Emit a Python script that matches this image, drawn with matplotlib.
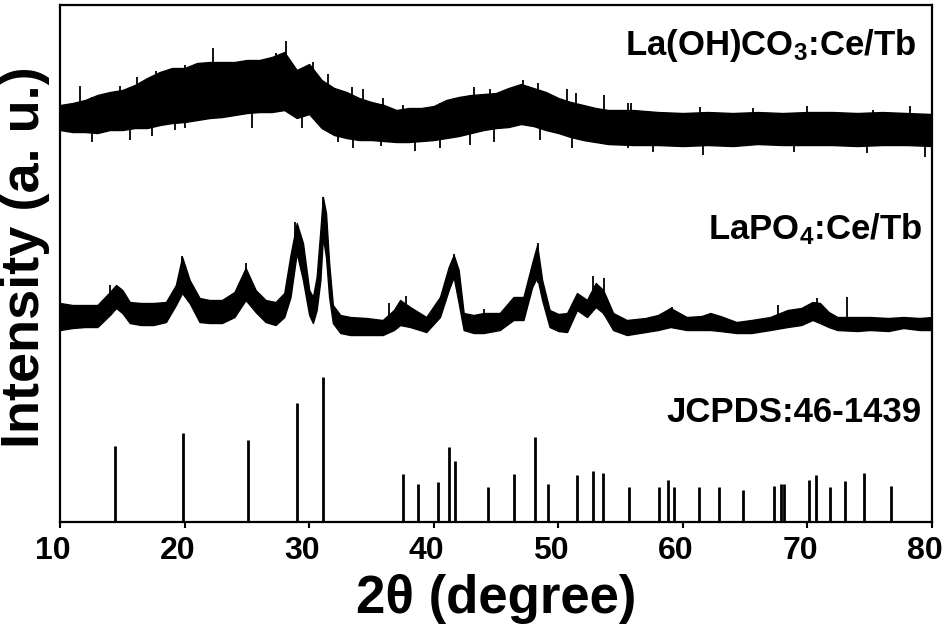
import numpy as np
import matplotlib.pyplot as plt
import matplotlib.transforms as mtransforms

plt.rcParams['font.family'] = ['Liberation Sans', 'DejaVu Sans']
plt.rcParams['font.weight'] = 'bold'
plt.rcParams['mathtext.fontset'] = 'custom'
plt.rcParams['mathtext.rm'] = 'Liberation Sans:bold'
plt.rcParams['mathtext.bf'] = 'Liberation Sans:bold'
plt.rcParams['mathtext.default'] = 'bf'

# La(OH)CO3:Ce/Tb -- amorphous pattern, noise band (upper / lower envelope)
top_2theta = [10, 11, 12, 13, 14, 15, 16, 17, 18, 19, 20, 21, 22, 23, 24, 25, 26, 27, 28, 29,
              30, 31, 32, 33, 34, 35, 36, 37, 38, 39, 40, 41, 42, 43, 44, 45, 46, 47, 48, 49,
              50, 51, 52, 53, 54, 56, 58, 60, 62, 64, 66, 68, 70, 72, 74, 76, 78, 80]
top_upper = [417, 419, 422, 427, 430, 432, 437, 444, 450, 454, 454, 459, 460, 460, 460, 462, 462, 465, 470, 452,
             458, 442, 434, 430, 424, 420, 417, 412, 414, 414, 416, 422, 425, 427, 428, 429, 434, 438, 434, 430,
             424, 420, 417, 414, 412, 412, 410, 409, 410, 409, 410, 409, 410, 410, 409, 410, 409, 408]
top_lower = [392, 390, 390, 389, 392, 392, 394, 394, 397, 399, 400, 402, 404, 405, 407, 409, 410, 410, 412, 404,
             408, 394, 387, 384, 382, 382, 381, 380, 380, 381, 382, 384, 386, 389, 392, 394, 395, 398, 396, 392,
             389, 385, 382, 380, 378, 377, 377, 376, 377, 376, 378, 377, 377, 377, 376, 377, 377, 376]
# single noise spikes sticking out of the band
top_spike_up_x = [11.6, 14.8, 16.2, 17.7, 19.0, 20.0, 22.3, 22.8, 24.4, 25.1, 26.3, 27.3, 28.1, 29.5,
                  30.3, 31.5, 33.4, 34.3, 35.9, 37.5, 41.6, 43.2, 44.5, 47.2, 48.4, 50.7, 51.4, 53.7,
                  55.6, 55.8, 61.4, 65.6, 70.0, 75.3, 78.2]
top_spike_up_y = [436, 436, 445, 451, 454, 457, 474, 459, 460, 462, 462, 469, 481, 449,
                  460, 448, 435, 433, 424, 417, 424, 435, 433, 442, 439, 433, 429, 427,
                  419, 419, 415, 414, 416, 412, 416]
top_spike_dn_x = [12.6, 15.6, 17.4, 19.2, 20.0, 25.4, 29.4, 32.3, 33.5, 35.8, 38.5, 40.5, 42.9, 44.8,
                  48.5, 51.1, 55.6, 57.6, 61.6, 68.9, 74.8, 79.4]
top_spike_dn_y = [380, 382, 386, 392, 394, 394, 394, 380, 374, 376, 371, 374, 377, 380,
                  382, 374, 374, 370, 367, 370, 369, 365]

# LaPO4:Ce/Tb -- nanocrystalline pattern, noise band (upper / lower envelope)
mid_2theta = [10, 11, 12, 13, 14, 14.5, 15, 15.6, 16.5, 17.5, 18.5, 19.3, 19.8, 20.4, 21.2, 22, 23, 24,
              24.9, 25.7, 26.5, 27.3, 28, 28.5, 29.0, 29.5, 30.0, 30.3, 30.6, 30.9, 31.1, 31.35, 31.6,
              31.9, 32.5, 33.3, 34.6, 35.9, 36.8, 37.3, 38.1, 39.4, 40.5, 41.2, 41.6, 42.0, 42.4, 43.2,
              44.0, 45.3, 46.4, 47.2, 47.9, 48.3, 48.7, 49.3, 50.0, 50.7, 51.5, 52.3, 53.0, 53.6, 54.4,
              55.5, 57, 58, 59, 60.3, 61.5, 62.2, 63, 64.3, 65.5, 67, 68.4, 69.5, 70.4, 71, 71.7, 72.4,
              74, 75, 76.5, 77.7, 79, 80]
mid_upper = [219, 217, 217, 217, 230, 237, 232, 220, 219, 219, 220, 237, 265, 242, 224, 222, 222, 230,
             254, 232, 222, 220, 229, 267, 299, 279, 232, 225, 245, 292, 325, 309, 259,
             217, 207, 205, 204, 202, 212, 222, 215, 205, 225, 255, 267, 252, 209, 207,
             209, 209, 225, 225, 259, 277, 242, 212, 208, 209, 229, 222, 239, 232, 209,
             202, 204, 207, 214, 205, 206, 209, 206, 200, 202, 205, 212, 214, 220, 219, 210, 205,
             205, 205, 204, 205, 204, 205]
mid_lower = [192, 194, 195, 195, 207, 214, 209, 199, 197, 197, 200, 217, 229, 219, 200, 199, 199, 205,
             222, 210, 200, 197, 205, 225, 269, 242, 207, 199, 212, 242, 285, 265, 225,
             199, 189, 187, 187, 187, 192, 197, 195, 190, 205, 232, 245, 219, 192, 189,
             189, 192, 202, 202, 235, 245, 222, 195, 191, 190, 212, 205, 215, 209, 192,
             187, 190, 192, 195, 192, 192, 192, 191, 189, 189, 192, 195, 197, 202, 199, 195, 192,
             191, 192, 191, 194, 192, 192]
mid_spike_up_x = [14.0, 19.8, 24.9, 28.9, 31.1, 36.4, 37.8, 41.6, 44.0, 48.4, 52.8, 53.7, 59.1, 67.6, 70.8, 73.2]
mid_spike_up_y = [237, 266, 259, 300, 325, 219, 226, 268, 213, 279, 246, 244, 215, 217, 224, 225]

# JCPDS 46-1439 reference lines
ref_2theta = [14.42, 19.85, 25.07, 29.0, 31.09, 37.5, 38.71, 40.32, 41.2, 41.71, 44.38, 46.47,
              48.13, 49.2, 51.53, 52.76, 53.62, 55.65, 58.11, 58.78, 59.26, 61.27, 62.93, 64.85,
              67.32, 67.88, 68.12, 70.13, 70.71, 71.81, 73.04, 74.54, 76.73]
ref_height = [76, 89, 82, 119, 145, 48, 38, 40, 75, 61, 35, 48,
              85, 38, 47, 51, 49, 35, 35, 42, 35, 35, 35, 32,
              36, 38, 38, 42, 47, 35, 41, 49, 36]

fig = plt.figure(figsize=(9.47, 6.29), dpi=100)
ax = fig.add_axes([0.0634, 0.1701, 0.9208, 0.8219])

ax.fill_between(top_2theta, top_lower, top_upper, color='black', lw=1.0)
top_mid = np.interp(top_spike_up_x, top_2theta, top_lower)
ax.vlines(top_spike_up_x, top_mid, top_spike_up_y, color='black', lw=1.3)
top_mid = np.interp(top_spike_dn_x, top_2theta, top_upper)
ax.vlines(top_spike_dn_x, top_spike_dn_y, top_mid, color='black', lw=1.3)

ax.fill_between(mid_2theta, mid_lower, mid_upper, color='black', lw=1.0)
mid_base = np.interp(mid_spike_up_x, mid_2theta, mid_lower)
ax.vlines(mid_spike_up_x, mid_base, mid_spike_up_y, color='black', lw=1.3)

ax.vlines(ref_2theta, 0, ref_height, color='black', lw=2.0)

ax.text(0.9815, 0.921, 'La(OH)CO$_3$:Ce/Tb', transform=ax.transAxes,
        ha='right', va='center', fontsize=25, fontweight='bold')
ax.text(0.9885, 0.567, 'LaPO$_4$:Ce/Tb', transform=ax.transAxes,
        ha='right', va='center', fontsize=25, fontweight='bold')
ax.text(0.9885, 0.211, 'JCPDS:46-1439', transform=ax.transAxes,
        ha='right', va='center', fontsize=25, fontweight='bold')

ax.set_xlim(10, 80)
ax.set_ylim(0, 517)
ax.set_xticks([10, 20, 30, 40, 50, 60, 70, 80])
ax.set_yticks([])
ax.tick_params(axis='x', direction='out', length=4, width=1.5, labelsize=23, pad=6)
shift = mtransforms.ScaledTranslation(-7 / 100, 0, fig.dpi_scale_trans)
for lab in ax.get_xticklabels():
    lab.set_fontweight('bold')
    lab.set_transform(lab.get_transform() + shift)
for sp in ax.spines.values():
    sp.set_linewidth(1.6)

ax.set_xlabel('2θ (degree)', fontsize=38, fontweight='bold', labelpad=6)
fig.text(0.026, 0.591, 'Intensity (a. u.)', rotation=90, ha='center', va='center',
         fontsize=39, fontweight='bold')

fig.savefig('out.png', dpi=100)
